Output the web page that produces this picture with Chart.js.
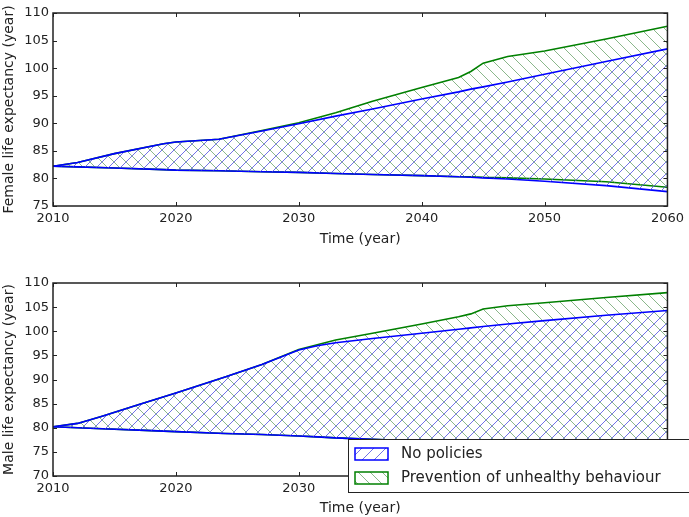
<!DOCTYPE html>
<html lang="en">
<head>
    <meta charset="UTF-8">
    <title>Life expectancy</title>
    <style>
        body { margin: 0; width: 689px; height: 517px; overflow: hidden; background: #fff; }
        canvas { display: block; }
    </style>
    <script src="https://cdn.jsdelivr.net/npm/chart.js@4/dist/chart.umd.min.js"></script>
</head>
<body>
    <canvas id="female" width="689" height="258"></canvas>
    <canvas id="male" width="689" height="259"></canvas>

    <script>
    // values
    const femaleYears = [2010, 2012, 2015, 2019, 2020, 2023.5, 2027, 2030, 2033, 2036, 2040, 2043, 2044, 2045, 2047, 2050, 2055, 2060];
    const femaleNoPolicyHigh   = [82.2, 82.9, 84.5, 86.3, 86.6, 87.1, 88.6, 89.9, 91.3, 92.6, 94.4, 95.7, 96.2, 96.6, 97.5, 98.9, 101.2, 103.5];
    const femaleNoPolicyLow    = [82.2, 82.1, 81.9, 81.6, 81.5, 81.4, 81.2, 81.1, 80.9, 80.7, 80.5, 80.3, 80.2, 80.1, 79.9, 79.5, 78.7, 77.6];
    const femalePreventionHigh = [82.2, 82.9, 84.5, 86.3, 86.6, 87.1, 88.7, 90.1, 91.9, 94.0, 96.5, 98.3, 99.4, 100.9, 102.1, 103.1, 105.3, 107.6];
    const femalePreventionLow  = [82.2, 82.1, 81.9, 81.6, 81.5, 81.4, 81.2, 81.1, 80.9, 80.7, 80.5, 80.3, 80.3, 80.2, 80.1, 79.9, 79.4, 78.4];

    const maleYears = [2010, 2012, 2014, 2017, 2020, 2024, 2027, 2030, 2031.5, 2033, 2036, 2040, 2043, 2044, 2045, 2047, 2050, 2055, 2060];
    const maleNoPolicyHigh   = [80.2, 80.9, 82.4, 84.8, 87.2, 90.5, 93.1, 96.1, 97.0, 97.6, 98.5, 99.6, 100.4, 100.7, 101.0, 101.5, 102.2, 103.3, 104.3];
    const maleNoPolicyLow    = [80.2, 80.0, 79.8, 79.5, 79.2, 78.8, 78.6, 78.3, 78.1, 77.9, 77.6, 77.2, 76.9, 76.8, 76.7, 76.4, 76.0, 75.4, 74.6];
    const malePreventionHigh = [80.2, 80.9, 82.4, 84.8, 87.2, 90.5, 93.1, 96.2, 97.2, 98.2, 99.6, 101.5, 103.0, 103.6, 104.6, 105.3, 105.9, 107.0, 108.0];
    const malePreventionLow  = [80.2, 80.0, 79.8, 79.5, 79.2, 78.8, 78.6, 78.3, 78.1, 77.9, 77.6, 77.2, 77.0, 76.9, 76.8, 76.6, 76.3, 75.8, 75.3];

    const xTicks = [2010, 2020, 2030, 2040, 2050, 2060];
    const femaleTicks = [75, 80, 85, 90, 95, 100, 105, 110];
    const maleTicks = [70, 75, 80, 85, 90, 95, 100, 105, 110];
    const legendLabels = ["No policies", "Prevention of unhealthy behaviour"];

    const BLUE = "blue";
    const GREEN = "green";

    function hatch(color, dir) {
        const s = 12;
        const c = document.createElement("canvas");
        c.width = s; c.height = s;
        const g = c.getContext("2d");
        g.strokeStyle = color;
        g.lineWidth = 1;
        g.beginPath();
        if (dir == "/") {
            g.moveTo(-2, s + 2); g.lineTo(s + 2, -2);
            g.moveTo(-2, 2); g.lineTo(2, -2);
            g.moveTo(s - 2, s + 2); g.lineTo(s + 2, s - 2);
        } else {
            g.moveTo(-2, -2); g.lineTo(s + 2, s + 2);
            g.moveTo(s - 2, -2); g.lineTo(s + 2, 2);
            g.moveTo(-2, s - 2); g.lineTo(2, s + 2);
        }
        g.stroke();
        return g.createPattern(c, "repeat");
    }
    const blueHatch = hatch("rgba(80,80,225,0.8)", "/");
    const greenHatch = hatch("rgba(110,165,110,0.8)", "\\");

    function pts(xs, ys) {
        return xs.map((x, i) => ({x: x, y: ys[i]}));
    }

    // frame with inward ticks on all four sides
    const frame = {
        id: "frame",
        afterDatasetsDraw(chart) {
            const {ctx, chartArea: a, scales} = chart;
            ctx.save();
            ctx.strokeStyle = "#222";
            ctx.lineWidth = 1;
            ctx.beginPath();
            scales.x.ticks.forEach(t => {
                const px = Math.round(scales.x.getPixelForValue(t.value)) + 0.5;
                ctx.moveTo(px, a.bottom); ctx.lineTo(px, a.bottom - 4);
                ctx.moveTo(px, a.top); ctx.lineTo(px, a.top + 4);
            });
            scales.y.ticks.forEach(t => {
                const py = Math.round(scales.y.getPixelForValue(t.value)) + 0.5;
                ctx.moveTo(a.left, py); ctx.lineTo(a.left + 4, py);
                ctx.moveTo(a.right, py); ctx.lineTo(a.right - 4, py);
            });
            ctx.stroke();
            ctx.lineWidth = 1.5;
            ctx.strokeRect(a.left, a.top, a.right - a.left, a.bottom - a.top);
            ctx.restore();
        }
    };

    // matplotlib style legend box, lower right of the male panel, running off the edge
    const boxLegend = {
        id: "boxLegend",
        afterDraw(chart) {
            const ctx = chart.ctx;
            ctx.save();
            ctx.fillStyle = "#fff";
            ctx.fillRect(348, 181, 360, 53);
            ctx.strokeStyle = "#222";
            ctx.lineWidth = 1;
            ctx.strokeRect(348.5, 181.5, 360, 53);
            const rows = [[blueHatch, BLUE, 190], [greenHatch, GREEN, 214]];
            ctx.font = "15px 'DejaVu Sans'";
            ctx.textBaseline = "middle";
            rows.forEach((r, i) => {
                ctx.fillStyle = r[0];
                ctx.fillRect(355, r[2], 33, 12);
                ctx.strokeStyle = r[1];
                ctx.lineWidth = 1.5;
                ctx.strokeRect(355, r[2], 33, 12);
                ctx.fillStyle = "#222";
                ctx.fillText(legendLabels[i], 401, r[2] + 6);
            });
            ctx.restore();
        }
    };

    function makeChart(id, years, npHigh, npLow, pvHigh, pvLow, yTicks, yTitle, topPad, xHeight, titlePad, extra) {
        return new Chart(id, {
            type: "line",
            data: {
                datasets: [
                    { data: pts(years, npHigh), borderColor: BLUE, backgroundColor: blueHatch, fill: "+1" },
                    { data: pts(years, npLow), borderColor: BLUE, fill: false },
                    { data: pts(years, pvHigh), borderColor: GREEN, backgroundColor: greenHatch, fill: "+1" },
                    { data: pts(years, pvLow), borderColor: GREEN, fill: false }
                ]
            },
            options: {
                responsive: false,
                animation: false,
                elements: {
                    point: { radius: 0 },
                    line: { borderWidth: 1.6 }
                },
                layout: { padding: { top: topPad, right: 18 } },
                plugins: { legend: { display: false }, tooltip: { enabled: false } },
                scales: {
                    x: {
                        type: "linear",
                        min: xTicks[0],
                        max: xTicks[xTicks.length - 1],
                        afterBuildTicks: s => { s.ticks = xTicks.map(v => ({value: v})); },
                        afterFit: s => { s.height = xHeight; },
                        grid: { display: false, drawTicks: false },
                        border: { display: false },
                        ticks: { color: "#222", padding: 5, maxRotation: 0,
                                 callback: v => String(v),
                                 font: { family: "DejaVu Sans", size: 13 } },
                        title: { display: true, text: "Time (year)", color: "#222",
                                 font: { family: "DejaVu Sans", size: 14 }, padding: { top: 0, bottom: titlePad } }
                    },
                    y: {
                        min: yTicks[0],
                        max: yTicks[yTicks.length - 1],
                        afterBuildTicks: s => { s.ticks = yTicks.map(v => ({value: v})); },
                        afterFit: s => { s.width = 53; },
                        grid: { display: false, drawTicks: false },
                        border: { display: false },
                        ticks: { color: "#222", padding: 4, font: { family: "DejaVu Sans", size: 13 } },
                        title: { display: true, text: yTitle, color: "#222",
                                 font: { family: "DejaVu Sans", size: 14 }, padding: { top: 1, bottom: 0 } }
                    }
                }
            },
            plugins: extra ? [frame, extra] : [frame]
        });
    }

    makeChart("female", femaleYears, femaleNoPolicyHigh, femaleNoPolicyLow, femalePreventionHigh, femalePreventionLow,
              femaleTicks, "Female life expectancy (year)", 13, 52, 10, null);
    makeChart("male", maleYears, maleNoPolicyHigh, maleNoPolicyLow, malePreventionHigh, malePreventionLow,
              maleTicks, "Male life expectancy (year)", 25, 41, 0, boxLegend);
    </script>
</body>
</html>
